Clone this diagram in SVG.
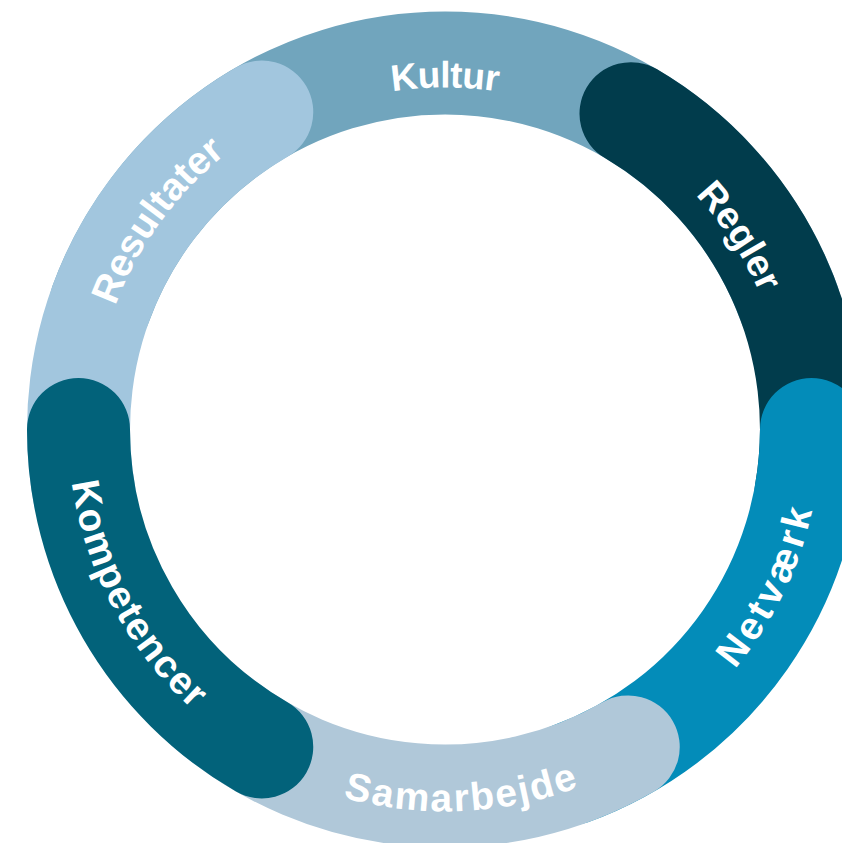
<svg xmlns="http://www.w3.org/2000/svg" xmlns:xlink="http://www.w3.org/1999/xlink" width="842" height="843" viewBox="0 0 842 843">
<style>
.seg{fill:none;stroke-width:103;stroke-linecap:round}
.lbl{font-family:"Liberation Sans",Arial,sans-serif;font-size:37px;font-weight:bold;fill:#ffffff}
.big{font-size:39px}
</style>
<defs>
<path id="pKultur" d="M148.8,258.5 A342,342 0 0 1 741.2,258.5"/>
<path id="pRegler" d="M599.1,123.1 A343,343 0 0 1 787.4,409.8"/>
<path id="pResultater" d="M94.9,392.7 A352,352 0 0 1 301.8,107.9"/>
<path id="pNetvaerk" d="M655.2,741.3 A376,376 0 0 0 820.1,403.3"/>
<path id="pSamarbejde" d="M268.7,768.2 A382,382 0 0 0 650.2,751.6"/>
<path id="pKompetencer" d="M68.2,416.4 A377,377 0 0 0 245.2,749.2"/>
</defs>
<rect width="842" height="843" fill="#ffffff"/>
<g id="kultur">
<path class="seg" stroke="#71A5BD" d="M100.6,304.1 A366.5,366.5 0 0 1 789.4,304.1"/>
<text class="lbl" text-anchor="middle"><textPath xlink:href="#pKultur" href="#pKultur" startOffset="50%" textLength="106" lengthAdjust="spacing">Kultur</textPath></text>
</g>
<g id="resultater">
<path class="seg" stroke="#A2C6DE" d="M84.1,493.1 A366.5,366.5 0 0 1 261.75,112.1"/>
<text class="lbl big" text-anchor="middle"><textPath xlink:href="#pResultater" href="#pResultater" startOffset="50%" textLength="190" lengthAdjust="spacing">Resultater</textPath></text>
</g>
<g id="regler">
<path class="seg" stroke="#013C4C" d="M631.0,113.7 A366.5,366.5 0 0 1 805.9,493.1"/>
<text class="lbl" text-anchor="middle" style="font-size:38px"><textPath xlink:href="#pRegler" href="#pRegler" startOffset="50%" textLength="118" lengthAdjust="spacing">Regler</textPath></text>
</g>
<g id="netvaerk">
<path class="seg" stroke="#038CB9" d="M811.5,429.5 A366.5,366.5 0 0 1 570.4,773.9"/>
<text class="lbl big" text-anchor="middle"><textPath xlink:href="#pNetvaerk" href="#pNetvaerk" startOffset="50%" textLength="178" lengthAdjust="spacing">Netværk</textPath></text>
</g>
<g id="samarbejde">
<path class="seg" stroke="#B0C8D9" d="M628.25,746.9 A366.5,366.5 0 0 1 209.4,710.3"/>
<text class="lbl big" text-anchor="middle"><textPath xlink:href="#pSamarbejde" href="#pSamarbejde" startOffset="50%" textLength="240" lengthAdjust="spacing">Samarbejde</textPath></text>
</g>
<g id="kompetencer">
<path class="seg" stroke="#02627A" d="M261.75,746.9 A366.5,366.5 0 0 1 78.5,429.5"/>
<text class="lbl big" text-anchor="middle"><textPath xlink:href="#pKompetencer" href="#pKompetencer" startOffset="50%" textLength="262" lengthAdjust="spacing">Kompetencer</textPath></text>
</g>
<g id="connectors"/>
</svg>
